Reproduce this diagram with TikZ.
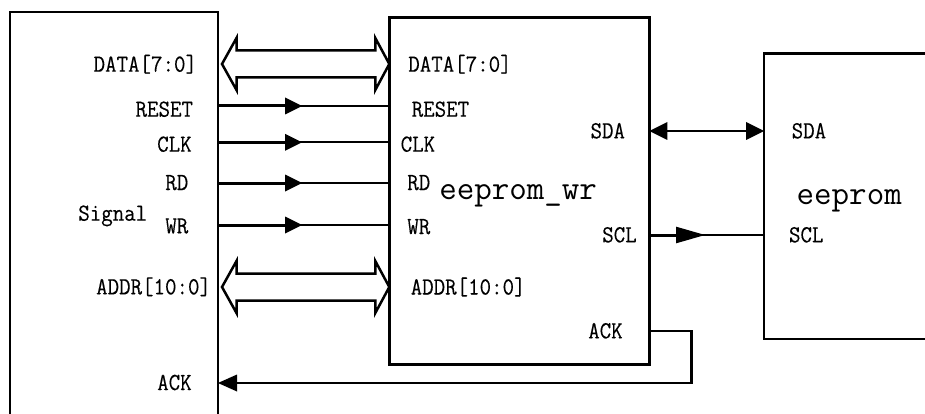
\documentclass[tikz,border=0pt]{standalone}
\usepackage{fontspec}
\usepackage{graphicx}
\usetikzlibrary{arrows.meta,calc}
\newfontfamily\monofam{Latin Modern Mono}[FakeBold=0.25]
\newfontfamily\monobig{Latin Modern Mono}
\newcommand\smtxt[1]{\scalebox{1}[1.1]{\fontsize{22.3pt}{23pt}\selectfont\monofam #1}}
\newcommand\bgtxt[1]{{\fontsize{34pt}{35pt}\selectfont\monobig #1}}
\newcommand\busarr[2]{\draw[bus] (#1) -- ++(14.5,-26) -- ++(0,12.5) -- ($(#2)+(-14,-13.5)$) -- ++(0,-12.5) -- (#2) -- ++(-14,26) -- ++(0,-12.5) -- ($(#1)+(14.5,13.5)$) -- ++(0,12.5) -- cycle;}
\begin{document}
\begin{tikzpicture}[x=1pt,y=-1pt,
  box/.style={draw,line width=2.6pt,outer sep=0pt,inner sep=0pt,anchor=north west},
  lblE/.style={anchor=base east,inner sep=0pt,outer sep=0pt},
  lblW/.style={anchor=base west,inner sep=0pt,outer sep=0pt},
  thicksig/.style={line width=3pt},
  thinsig/.style={line width=2pt},
  bus/.style={line width=2.5pt,line join=miter},
  tipin/.style={-{Triangle[length=17pt,width=17pt,line width=0pt]}},
]
\useasboundingbox (0,0) rectangle (925,414);
\clip (0,0) rectangle (925,414);
\fill[white] (0,0) rectangle (925,414);

% boxes
\node[box,minimum width=208pt,minimum height=420pt] (L) at (10,12) {};
\node[box,minimum width=260pt,minimum height=347pt] (M) at (389.3,17.3) {};
\node[box,minimum width=200pt,minimum height=285.7pt] (R) at (764,53.3) {};

% buses
\coordinate (dl) at ($(L.east |- 0,64)+(4,0)$);
\coordinate (dr) at (M.west |- 0,64);
\busarr{dl}{dr}
\coordinate (al) at ($(L.east |- 0,287)+(4,0)$);
\coordinate (ar) at (M.west |- 0,287);
\busarr{al}{ar}

% single signals
\foreach \n/\y in {reset/106, clk/142.3, rd/183, wr/225} {
  \coordinate (L\n) at (L.east |- 0,\y);
  \coordinate (M\n) at (M.west |- 0,\y);
  \coordinate (A\n) at (302,\y);
  \draw[thinsig] (L\n) -- (M\n);
  \draw[thicksig,tipin] (L\n) -- (A\n);
}

% SDA
\coordinate (Msda) at (M.east |- 0,131);
\coordinate (Rsda) at (R.west |- 0,131);
\draw[line width=2.6pt,{Triangle[length=18pt,width=18pt,line width=0pt]}-{Triangle[length=18pt,width=18pt,line width=0pt]}] (Msda) -- (Rsda);

% SCL
\coordinate (Mscl) at (M.east |- 0,235);
\coordinate (Rscl) at (R.west |- 0,235);
\coordinate (Ascl) at (705,235);
\draw[thinsig] (Mscl) -- (Rscl);
\draw[thicksig,-{Triangle[length=29pt,width=16.7pt,line width=0pt]}] (Mscl) -- (Ascl);

% ACK
\coordinate (Mack) at (M.east |- 0,331);
\coordinate (Lack) at (L.east |- 0,383);
\coordinate (Kc) at (691.7,331);
\draw[line width=2.6pt,line join=miter,-{Triangle[length=19pt,width=17pt,line width=0pt]}] (Mack) -- (Kc) |- (Lack);

% left labels
\node[lblE] (t1) at (197,71.7) {\smtxt{DATA[7:0]}};
\node[lblE] (t2) at (193,116.7) {\smtxt{RESET}};
\node[lblE] (t3) at (191.7,151.7) {\smtxt{CLK}};
\node[lblE] (t4) at (188.3,190) {\smtxt{RD}};
\node[lblW] (t5) at (78.3,220.7) {\smtxt{Signal}};
\node[lblE] (t6) at (188.3,233.3) {\smtxt{WR}};
\node[lblE] (t7) at (211,294.3) {\smtxt{ADDR[10:0]}};
\node[lblE] (t8) at (191.7,390) {\smtxt{ACK}};

% middle labels
\node[lblW] (m1) at (408.3,71.7) {\smtxt{DATA[7:0]}};
\node[lblW] (m2) at (411.7,116.7) {\smtxt{RESET}};
\node[lblW] (m3) at (400.7,151.7) {\smtxt{CLK}};
\node[lblW] (m4) at (407.3,190) {\smtxt{RD}};
\node[lblW] (m5) at (439.3,199.5) {\bgtxt{eeprom\_wr}};
\node[lblE] (m6) at (625,138.3) {\smtxt{SDA}};
\node[lblW] (m7) at (407.3,234) {\smtxt{WR}};
\node[lblE] (m8) at (636.7,242.3) {\smtxt{SCL}};
\node[lblW] (m9) at (410.7,294.5) {\smtxt{ADDR[10:0]}};
\node[lblE] (m10) at (622.7,338.3) {\smtxt{ACK}};

% right labels
\node[lblW] (r1) at (791.7,138.3) {\smtxt{SDA}};
\node[lblW] (r2) at (796.7,204) {\bgtxt{eeprom}};
\node[lblW] (r3) at (789,242.3) {\smtxt{SCL}};
\end{tikzpicture}
\end{document}
